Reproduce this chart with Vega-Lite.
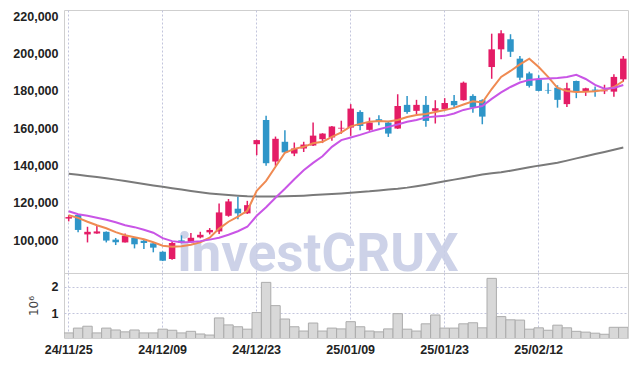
{
  "$schema": "https://vega.github.io/schema/vega-lite/v6.json",
  "background": "white",
  "padding": {"left": 5, "top": 9, "right": 5, "bottom": 5},
  "spacing": 0,
  "bounds": "flush",
  "datasets": {
    "px": [
      {"d":"24/11/25","o":111500,"h":113300,"l":110000,"c":112300,"v":270000,"m5":113300,"m20":115400,"m120":135600},
      {"d":"24/11/26","o":113400,"h":113900,"l":104100,"c":105400,"v":450000,"m5":111900,"m20":113800,"m120":135000},
      {"d":"24/11/27","o":103000,"h":107100,"l":98700,"c":104400,"v":520000,"m5":109800,"m20":113000,"m120":134400},
      {"d":"24/11/28","o":103500,"h":107600,"l":103300,"c":104600,"v":270000,"m5":107900,"m20":111900,"m120":133800},
      {"d":"24/11/29","o":104400,"h":104600,"l":98700,"c":99700,"v":450000,"m5":106300,"m20":110900,"m120":133100},
      {"d":"24/12/02","o":100200,"h":101100,"l":97300,"c":98800,"v":380000,"m5":104200,"m20":109500,"m120":132400},
      {"d":"24/12/03","o":98700,"h":103500,"l":98700,"c":102300,"v":310000,"m5":102600,"m20":107900,"m120":131600},
      {"d":"24/12/04","o":101100,"h":101300,"l":95500,"c":97700,"v":380000,"m5":101500,"m20":106900,"m120":130900},
      {"d":"24/12/05","o":99600,"h":100500,"l":95200,"c":98400,"v":270000,"m5":100400,"m20":105500,"m120":130100},
      {"d":"24/12/06","o":98200,"h":98700,"l":93400,"c":95900,"v":270000,"m5":98800,"m20":103900,"m120":129300},
      {"d":"24/12/09","o":93700,"h":93900,"l":88700,"c":88900,"v":410000,"m5":96900,"m20":101000,"m120":128600},
      {"d":"24/12/10","o":89800,"h":99100,"l":89400,"c":98400,"v":370000,"m5":96400,"m20":99400,"m120":127800},
      {"d":"24/12/11","o":99800,"h":102500,"l":98200,"c":98400,"v":270000,"m5":96700,"m20":98800,"m120":127100},
      {"d":"24/12/12","o":98700,"h":103700,"l":98400,"c":101200,"v":330000,"m5":97500,"m20":98900,"m120":126300},
      {"d":"24/12/13","o":101400,"h":104400,"l":100900,"c":102800,"v":230000,"m5":98800,"m20":99400,"m120":125600},
      {"d":"24/12/16","o":104100,"h":106400,"l":103000,"c":105400,"v":190000,"m5":101200,"m20":100200,"m120":125000},
      {"d":"24/12/17","o":104600,"h":119600,"l":103200,"c":114800,"v":830000,"m5":106100,"m20":101200,"m120":124500},
      {"d":"24/12/18","o":113000,"h":122000,"l":112500,"c":120700,"v":570000,"m5":109800,"m20":102800,"m120":124100},
      {"d":"24/12/19","o":116800,"h":123200,"l":111200,"c":114300,"v":500000,"m5":112500,"m20":104700,"m120":123800},
      {"d":"24/12/20","o":114300,"h":121000,"l":114000,"c":118700,"v":410000,"m5":115700,"m20":107100,"m120":123500},
      {"d":"24/12/23","o":151400,"h":153800,"l":145500,"c":153600,"v":1030000,"m5":126400,"m20":113000,"m120":123400},
      {"d":"24/12/24","o":164400,"h":166600,"l":139800,"c":141200,"v":2160000,"m5":131700,"m20":117600,"m120":123400},
      {"d":"24/12/26","o":142100,"h":155500,"l":139800,"c":154300,"v":1290000,"m5":139300,"m20":122700,"m120":123400},
      {"d":"24/12/27","o":152700,"h":158900,"l":146800,"c":147000,"v":790000,"m5":146800,"m20":127500,"m120":123500},
      {"d":"24/12/30","o":146400,"h":152300,"l":145000,"c":149100,"v":500000,"m5":148900,"m20":132600,"m120":123600},
      {"d":"25/01/02","o":149100,"h":152700,"l":147200,"c":151200,"v":340000,"m5":150000,"m20":137400,"m120":123800},
      {"d":"25/01/03","o":150700,"h":163000,"l":150500,"c":156000,"v":640000,"m5":151900,"m20":141400,"m120":124100},
      {"d":"25/01/06","o":154100,"h":157300,"l":152000,"c":157100,"v":340000,"m5":152700,"m20":144900,"m120":124400},
      {"d":"25/01/07","o":155000,"h":161200,"l":153200,"c":160900,"v":450000,"m5":155300,"m20":150000,"m120":124700},
      {"d":"25/01/08","o":159800,"h":164000,"l":157000,"c":160200,"v":420000,"m5":157700,"m20":153600,"m120":125000},
      {"d":"25/01/09","o":160300,"h":172900,"l":155900,"c":170500,"v":690000,"m5":161000,"m20":155000,"m120":125400},
      {"d":"25/01/10","o":168700,"h":169600,"l":158900,"c":161200,"v":500000,"m5":162300,"m20":156400,"m120":125800},
      {"d":"25/01/13","o":159100,"h":165700,"l":158600,"c":163000,"v":340000,"m5":163400,"m20":158000,"m120":126100},
      {"d":"25/01/14","o":164800,"h":167000,"l":161600,"c":163400,"v":310000,"m5":163900,"m20":159400,"m120":126600},
      {"d":"25/01/15","o":163000,"h":163900,"l":155300,"c":157100,"v":420000,"m5":163600,"m20":160700,"m120":127100},
      {"d":"25/01/16","o":159800,"h":178200,"l":159600,"c":171900,"v":990000,"m5":164400,"m20":162000,"m120":127500},
      {"d":"25/01/17","o":172500,"h":177300,"l":167800,"c":168700,"v":410000,"m5":166000,"m20":163400,"m120":128100},
      {"d":"25/01/20","o":169300,"h":175200,"l":167500,"c":172500,"v":340000,"m5":167100,"m20":164400,"m120":128900},
      {"d":"25/01/21","o":172500,"h":177300,"l":160800,"c":163900,"v":610000,"m5":167600,"m20":165800,"m120":129700},
      {"d":"25/01/22","o":169300,"h":175000,"l":162500,"c":170700,"v":940000,"m5":168700,"m20":166300,"m120":130600},
      {"d":"25/01/23","o":170200,"h":176100,"l":169600,"c":173500,"v":450000,"m5":169800,"m20":166600,"m120":131500},
      {"d":"25/01/24","o":174600,"h":177800,"l":171000,"c":172300,"v":450000,"m5":170900,"m20":167900,"m120":132400},
      {"d":"25/01/31","o":175000,"h":185000,"l":174800,"c":184400,"v":610000,"m5":172700,"m20":169800,"m120":133300},
      {"d":"25/02/03","o":177300,"h":178200,"l":168300,"c":171000,"v":650000,"m5":174400,"m20":170900,"m120":134200},
      {"d":"25/02/04","o":175000,"h":175500,"l":162100,"c":166200,"v":460000,"m5":173800,"m20":171900,"m120":135100},
      {"d":"25/02/05","o":192800,"h":210700,"l":186500,"c":202300,"v":2310000,"m5":181000,"m20":175700,"m120":135800},
      {"d":"25/02/06","o":202300,"h":212500,"l":197000,"c":210900,"v":880000,"m5":187500,"m20":179200,"m120":136300},
      {"d":"25/02/07","o":207700,"h":210400,"l":198200,"c":201000,"v":760000,"m5":190700,"m20":182100,"m120":137200},
      {"d":"25/02/10","o":197300,"h":198700,"l":185700,"c":187100,"v":750000,"m5":194200,"m20":184500,"m120":138100},
      {"d":"25/02/11","o":189400,"h":190300,"l":181800,"c":182700,"v":410000,"m5":197300,"m20":185900,"m120":139000},
      {"d":"25/02/12","o":186200,"h":188400,"l":179800,"c":180000,"v":460000,"m5":192800,"m20":186400,"m120":139900},
      {"d":"25/02/13","o":180500,"h":184100,"l":178500,"c":180200,"v":370000,"m5":187500,"m20":186700,"m120":140600},
      {"d":"25/02/14","o":181700,"h":183000,"l":171000,"c":175200,"v":560000,"m5":181600,"m20":186900,"m120":141400},
      {"d":"25/02/17","o":172900,"h":184400,"l":171400,"c":181400,"v":460000,"m5":180000,"m20":187500,"m120":142600},
      {"d":"25/02/18","o":185300,"h":185500,"l":176100,"c":179600,"v":330000,"m5":179400,"m20":188600,"m120":143800},
      {"d":"25/02/19","o":179600,"h":181700,"l":177300,"c":181400,"v":300000,"m5":179600,"m20":186400,"m120":144900},
      {"d":"25/02/20","o":180700,"h":182300,"l":176800,"c":180100,"v":260000,"m5":179800,"m20":183200,"m120":146100},
      {"d":"25/02/21","o":179800,"h":183300,"l":178300,"c":180300,"v":220000,"m5":180500,"m20":181200,"m120":147200},
      {"d":"25/02/24","o":179600,"h":188900,"l":176800,"c":187500,"v":480000,"m5":182100,"m20":181600,"m120":148400},
      {"d":"25/02/25","o":186200,"h":198700,"l":184900,"c":197300,"v":480000,"m5":185300,"m20":183200,"m120":149600}
    ],
    "mark": [{"label": "investCRUX"}]
  },
  "config": {
    "view": {"stroke": "#cfcfcf"},
    "axis": {
      "labelFont": "Liberation Sans",
      "labelFontSize": 12.5,
      "labelFontWeight": "bold",
      "labelColor": "#222222",
      "ticks": false,
      "domain": false,
      "gridColor": "#c2c5dc",
      "gridDash": [2, 2],
      "gridWidth": 1
    }
  },
  "vconcat": [
    {
      "width": 564,
      "height": 263,
      "layer": [
        {
          "data": {"name": "mark"},
          "mark": {"type": "text", "font": "Roboto", "fontWeight": "bold", "fontSize": 53, "color": "#c8cee6", "opacity": 0.9, "align": "center", "baseline": "alphabetic", "dx": 5},
          "encoding": {
            "text": {"field": "label"},
            "x": {"datum": "25/01/03", "type": "ordinal",
                  "scale": {"paddingInner": 0, "paddingOuter": 0,
                            "domain": ["24/11/25","24/11/26","24/11/27","24/11/28","24/11/29","24/12/02","24/12/03","24/12/04","24/12/05","24/12/06","24/12/09","24/12/10","24/12/11","24/12/12","24/12/13","24/12/16","24/12/17","24/12/18","24/12/19","24/12/20","24/12/23","24/12/24","24/12/26","24/12/27","24/12/30","25/01/02","25/01/03","25/01/06","25/01/07","25/01/08","25/01/09","25/01/10","25/01/13","25/01/14","25/01/15","25/01/16","25/01/17","25/01/20","25/01/21","25/01/22","25/01/23","25/01/24","25/01/31","25/02/03","25/02/04","25/02/05","25/02/06","25/02/07","25/02/10","25/02/11","25/02/12","25/02/13","25/02/14","25/02/17","25/02/18","25/02/19","25/02/20","25/02/21","25/02/24","25/02/25"]},
                  "axis": {"labels": false, "title": null, "grid": true,
                           "values": ["24/11/25","24/12/09","24/12/23","25/01/09","25/01/23","25/02/12"]}},
            "y": {"datum": 83600, "type": "quantitative",
                  "scale": {"domain": [82300, 223400], "zero": false, "nice": false},
                  "axis": {"title": null, "values": [100000,120000,140000,160000,180000,200000,220000], "labelExpr": "format(datum.value, ',')", "labelPadding": 6, "minExtent": 58, "maxExtent": 58}}
          }
        },
        {
          "data": {"name": "px"},
          "encoding": {"x": {"field": "d", "type": "ordinal"}},
          "layer": [
            {
              "mark": {"type": "line", "color": "#7a7a7a", "strokeWidth": 2},
              "encoding": {"y": {"field": "m120", "type": "quantitative", "axis": {"title": null, "values": [100000,120000,140000,160000,180000,200000,220000], "labelExpr": "format(datum.value, ',')", "labelPadding": 6, "minExtent": 58, "maxExtent": 58}}}
            },
            {
              "mark": {"type": "rule", "strokeWidth": 1.5},
              "encoding": {
                "y": {"field": "l", "type": "quantitative"},
                "y2": {"field": "h"},
                "color": {"condition": {"test": "datum.c >= datum.o", "value": "#e41c66"}, "value": "#2e95c8"}
              }
            },
            {
              "mark": {"type": "bar", "size": 6.5},
              "encoding": {
                "y": {"field": "o", "type": "quantitative"},
                "y2": {"field": "c"},
                "color": {"condition": {"test": "datum.c >= datum.o", "value": "#e41c66"}, "value": "#2e95c8"}
              }
            },
            {
              "mark": {"type": "line", "color": "#ef8a52", "strokeWidth": 2},
              "encoding": {"y": {"field": "m5", "type": "quantitative"}}
            },
            {
              "mark": {"type": "line", "color": "#c955e6", "strokeWidth": 2},
              "encoding": {"y": {"field": "m20", "type": "quantitative"}}
            }
          ]
        }
      ]
    },
    {
      "width": 564,
      "height": 65,
      "data": {"name": "px"},
      "mark": {"type": "bar", "fill": "#d8d8d8", "stroke": "#acacac", "strokeWidth": 1, "clip": true},
      "encoding": {
        "x": {
          "field": "d", "type": "ordinal", "sort": null,
          "scale": {"paddingInner": 0, "paddingOuter": 0},
          "axis": {"title": null, "grid": true, "labelAngle": 0, "labelPadding": 5,
                   "values": ["24/11/25","24/12/09","24/12/23","25/01/09","25/01/23","25/02/12"]}
        },
        "y": {
          "field": "v", "type": "quantitative",
          "scale": {"domain": [80000, 2510000], "zero": false, "nice": false},
          "axis": {"title": "10⁶", "titleFont": "DejaVu Sans", "titleFontWeight": "normal", "titleFontSize": 12, "titleColor": "#444444",
                   "titlePadding": 11, "values": [1000000, 2000000], "labelExpr": "datum.value / 1000000", "labelPadding": 6}
        }
      }
    }
  ]
}
